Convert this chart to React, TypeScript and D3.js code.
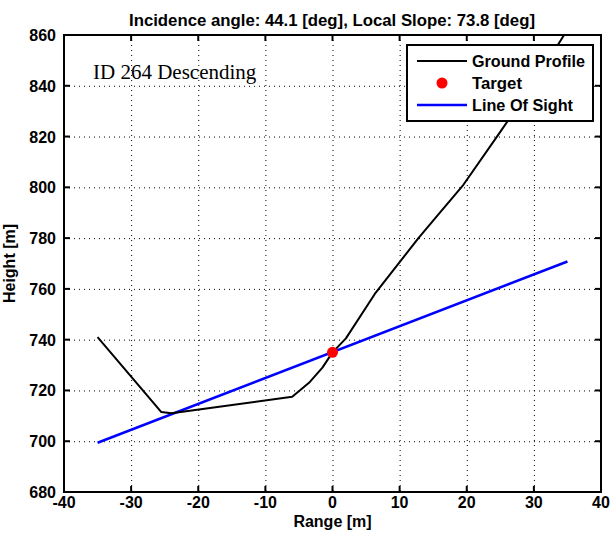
import React from "react";
import * as d3 from "d3";

// ground profile
const profileRange = [-35, -25.5, -24, -6, -3.5, -1.5, 0, 2, 6.3, 12.8, 16, 19.5, 24.5, 30, 34.5];
const profileHeight = [741, 711.5, 711, 717.5, 723, 729, 735, 740.5, 758, 780, 790, 801, 820, 841, 860];

const losRange = [-35, 35];
const losHeight = [699.4, 770.8];

const targetRange = [0];
const targetHeight = [735];

const xTicks = [-40, -30, -20, -10, 0, 10, 20, 30, 40];
const yTicks = [680, 700, 720, 740, 760, 780, 800, 820, 840, 860];

const legendLabels = ["Ground Profile", "Target", "Line Of Sight"];
const legendWidths = [113, 50, 101];

const W = 611;
const H = 538;
const left = 64, right = 601, top = 35, bottom = 492;
const font = "'Liberation Sans', Arial, sans-serif";

export default function App() {
  const x = d3.scaleLinear().domain([-40, 40]).range([left, right]);
  const y = d3.scaleLinear().domain([680, 860]).range([bottom, top]);

  const line = d3.line<[number, number]>()
    .x(d => x(d[0]))
    .y(d => y(d[1]));

  const profile = profileRange.map((r, i) => [r, profileHeight[i]] as [number, number]);
  const los = losRange.map((r, i) => [r, losHeight[i]] as [number, number]);

  const lg = { x0: 407, y0: 45, x1: 593, y1: 121 };
  const rows = [61, 83, 105];

  return (
    <svg width={W} height={H} style={{ position: "absolute", left: 0, top: 0, background: "#fff" }}>
      <rect x={0} y={0} width={W} height={H} fill="#fff" />
      <defs>
        <clipPath id="plot">
          <rect x={left} y={top} width={right - left} height={bottom - top} />
        </clipPath>
      </defs>

      {/* grid */}
      <g stroke="#000" strokeWidth={1} strokeDasharray="1,4">
        {xTicks.slice(1, -1).map(t => (
          <line key={"gx" + t} x1={x(t) + 0.5} x2={x(t) + 0.5} y1={top} y2={bottom} />
        ))}
        {yTicks.slice(1, -1).map(t => (
          <line key={"gy" + t} x1={left} x2={right} y1={y(t) + 0.5} y2={y(t) + 0.5} />
        ))}
      </g>

      {/* data */}
      <g clipPath="url(#plot)">
        <path d={line(los) || ""} fill="none" stroke="#0000ff" strokeWidth={2.5} />
        <path d={line(profile) || ""} fill="none" stroke="#000" strokeWidth={2} strokeLinejoin="round" />
        {targetRange.map((r, i) => (
          <circle key={i} cx={x(r)} cy={y(targetHeight[i])} r={5.5} fill="#ff0000" />
        ))}
      </g>

      {/* ticks */}
      <g stroke="#000" strokeWidth={2}>
        {xTicks.slice(1, -1).map(t => (
          <g key={"tx" + t}>
            <line x1={x(t)} x2={x(t)} y1={bottom} y2={bottom - 6} />
            <line x1={x(t)} x2={x(t)} y1={top} y2={top + 6} />
          </g>
        ))}
        {yTicks.slice(1, -1).map(t => (
          <g key={"ty" + t}>
            <line x1={left} x2={left + 6} y1={y(t)} y2={y(t)} />
            <line x1={right} x2={right - 6} y1={y(t)} y2={y(t)} />
          </g>
        ))}
      </g>

      {/* box */}
      <rect x={left} y={top} width={right - left} height={bottom - top} fill="none" stroke="#000" strokeWidth={2} />

      {/* tick labels */}
      <g fontFamily={font} fontWeight="bold" fontSize={16} fill="#000">
        {xTicks.map(t => (
          <text key={"lx" + t} x={x(t)} y={508} textAnchor="middle">{t}</text>
        ))}
        {yTicks.map(t => (
          <text key={"ly" + t} x={56} y={y(t) + 6} textAnchor="end">{t}</text>
        ))}
        <text x={(left + right) / 2} y={527} textAnchor="middle">Range [m]</text>
        <text transform={`translate(15,${(top + bottom) / 2}) rotate(-90)`} textAnchor="middle">Height [m]</text>
        <text x={332} y={26} textAnchor="middle" textLength={406} lengthAdjust="spacingAndGlyphs">
          Incidence angle: 44.1 [deg], Local Slope: 73.8 [deg]
        </text>
      </g>

      <text x={93} y={79} fontFamily="'Liberation Serif', 'Times New Roman', serif" fontSize={21} fill="#000">ID 264 Descending</text>

      {/* legend */}
      <g>
        <rect x={lg.x0} y={lg.y0} width={lg.x1 - lg.x0} height={lg.y1 - lg.y0} fill="#fff" stroke="#000" strokeWidth={2} />
        <line x1={417} x2={467} y1={rows[0]} y2={rows[0]} stroke="#000" strokeWidth={2} />
        <circle cx={442} cy={rows[1]} r={5.5} fill="#ff0000" />
        <line x1={417} x2={467} y1={rows[2]} y2={rows[2]} stroke="#0000ff" strokeWidth={2.5} />
        <g fontFamily={font} fontWeight="bold" fontSize={16} fill="#000">
          {legendLabels.map((l, i) => (
            <text key={l} x={472} y={rows[i] + 6} textLength={legendWidths[i]} lengthAdjust="spacingAndGlyphs">{l}</text>
          ))}
        </g>
      </g>
    </svg>
  );
}
